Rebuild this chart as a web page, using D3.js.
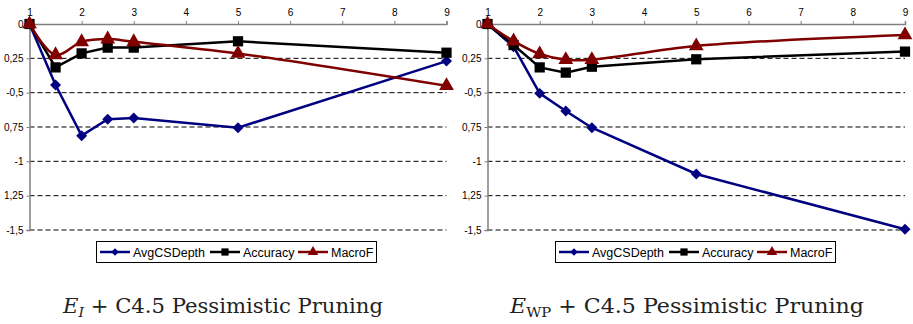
<!DOCTYPE html>
<html>
<head>
<meta charset="utf-8">
<script src="https://cdn.jsdelivr.net/npm/d3@7/dist/d3.min.js"></script>
<style>
  body { margin: 0; background: #fff; }
</style>
</head>
<body>
<svg id="chart" width="913" height="324"></svg>
<script>
// x positions of the measurements
const xs = [1, 1.5, 2, 2.5, 3, 5, 9];
const xTicks = [1, 2, 3, 4, 5, 6, 7, 8, 9];
const yTicks = [0, -0.25, -0.5, -0.75, -1, -1.25, -1.5];
// tick labels as they appear in the picture
const yTickLabels = ["0", "0,25", "-0,5", "0,75", "-1", "1,25", "-1,5"];

// left panel: E_I
const leftAvgCSDepth = [0, -0.444, -0.813, -0.694, -0.684, -0.755, -0.27];
const leftAccuracy   = [0, -0.316, -0.214, -0.172, -0.172, -0.126, -0.209];
const leftMacroF     = [0, -0.225, -0.13, -0.11, -0.13, -0.215, -0.45];

// right panel: E_WP
const rightAvgCSDepth = [0, -0.165, -0.505, -0.633, -0.755, -1.092, -1.495];
const rightAccuracy   = [0, -0.153, -0.316, -0.354, -0.311, -0.257, -0.201];
const rightMacroF     = [0, -0.125, -0.218, -0.26, -0.26, -0.16, -0.08];

const seriesNames = ["AvgCSDepth", "Accuracy", "MacroF"];
const colors = ["#000080", "#000000", "#800000"];
const symbols = [d3.symbolSquare, d3.symbolSquare, d3.symbolTriangle];
const rotate = [45, 0, 0];
const sizes = [60, 105, 95];
const sans = "Liberation Sans, Arial, sans-serif";

const svg = d3.select("#chart");

function panel(x0, x1, values, caption, sub, subItalic, legendX, captionX, captionW) {
  const x = d3.scaleLinear().domain([1, 9]).range([x0, x1]);
  const y = d3.scaleLinear().domain([0, -1.5]).range([24, 230]);
  const g = svg.append("g");

  // dashed gridlines
  g.append("g")
    .selectAll("line")
    .data(yTicks.slice(1))
    .join("line")
    .attr("x1", x0).attr("x2", x1)
    .attr("y1", (d) => y(d)).attr("y2", (d) => y(d))
    .attr("stroke", "#000")
    .attr("stroke-width", 1)
    .attr("stroke-dasharray", "5,3");

  // top axis
  const top = g.append("g").attr("transform", `translate(0,${y(0)})`)
    .call(d3.axisTop(x).tickValues(xTicks).tickSize(3).tickPadding(5).tickFormat(d3.format("d")));
  top.select(".domain").attr("stroke", "#808080").attr("stroke-width", 1.5);
  top.selectAll(".tick line").attr("stroke", "#808080");
  top.selectAll("text").attr("font-size", 10).attr("fill", "#000").attr("font-family", sans);

  // left axis
  const left = g.append("g").attr("transform", `translate(${x0},0)`)
    .call(d3.axisLeft(y).tickValues(yTicks).tickSize(3).tickPadding(3)
      .tickFormat((d, i) => yTickLabels[i]));
  left.select(".domain").attr("stroke", "#808080").attr("stroke-width", 1.5);
  left.selectAll(".tick line").attr("stroke", "#808080");
  left.selectAll("text").attr("font-size", 10).attr("fill", "#000").attr("font-family", sans);

  // series
  values.forEach((vals, s) => {
    const pts = xs.map((v, i) => [x(v), y(vals[i])]);
    const line = d3.line().curve(s === 2 ? d3.curveCatmullRom.alpha(0.5) : d3.curveLinear);
    g.append("path")
      .attr("d", line(pts))
      .attr("fill", "none")
      .attr("stroke", colors[s])
      .attr("stroke-width", 2.5);
    g.append("g")
      .selectAll("path")
      .data(pts)
      .join("path")
      .attr("transform", (d) => `translate(${d[0]},${d[1]}) rotate(${rotate[s]})`)
      .attr("d", d3.symbol().type(symbols[s]).size(sizes[s]))
      .attr("fill", colors[s]);
  });

  // legend
  const lg = g.append("g").attr("transform", `translate(${legendX},241)`);
  lg.append("rect").attr("x", 0.5).attr("y", 0.5).attr("width", 280).attr("height", 21)
    .attr("fill", "#fff").attr("stroke", "#000").attr("stroke-width", 1);
  const itemX = [4, 114, 202];
  seriesNames.forEach((name, s) => {
    const it = lg.append("g").attr("transform", `translate(${itemX[s]},11)`);
    it.append("line").attr("x1", 0).attr("x2", 30).attr("y1", 0).attr("y2", 0)
      .attr("stroke", colors[s]).attr("stroke-width", 2.5);
    it.append("path").attr("transform", `translate(15,0) rotate(${rotate[s]})`)
      .attr("d", d3.symbol().type(symbols[s]).size(sizes[s] * 0.5))
      .attr("fill", colors[s]);
    it.append("text").attr("x", 33).attr("y", 4.5).attr("font-size", 12.5)
      .attr("font-family", sans).text(name);
  });

  // caption
  const cap = g.append("text").attr("x", captionX).attr("y", 313)
    .attr("font-family", "DejaVu Serif, serif")
    .attr("font-size", 19.5)
    .attr("fill", "#222")
    .attr("textLength", captionW)
    .attr("lengthAdjust", "spacingAndGlyphs");
  cap.append("tspan").attr("font-style", "italic").text("E");
  cap.append("tspan").attr("font-size", 13).attr("dy", 4)
    .attr("font-style", subItalic ? "italic" : "normal").text(sub);
  cap.append("tspan").attr("dy", -4).text(caption);
}

panel(29.5, 446.5, [leftAvgCSDepth, leftAccuracy, leftMacroF],
  " + C4.5 Pessimistic Pruning", "I", true, 96, 63, 320);
panel(487.5, 905, [rightAvgCSDepth, rightAccuracy, rightMacroF],
  " + C4.5 Pessimistic Pruning", "WP", false, 555, 510, 354);
</script>
</body>
</html>
